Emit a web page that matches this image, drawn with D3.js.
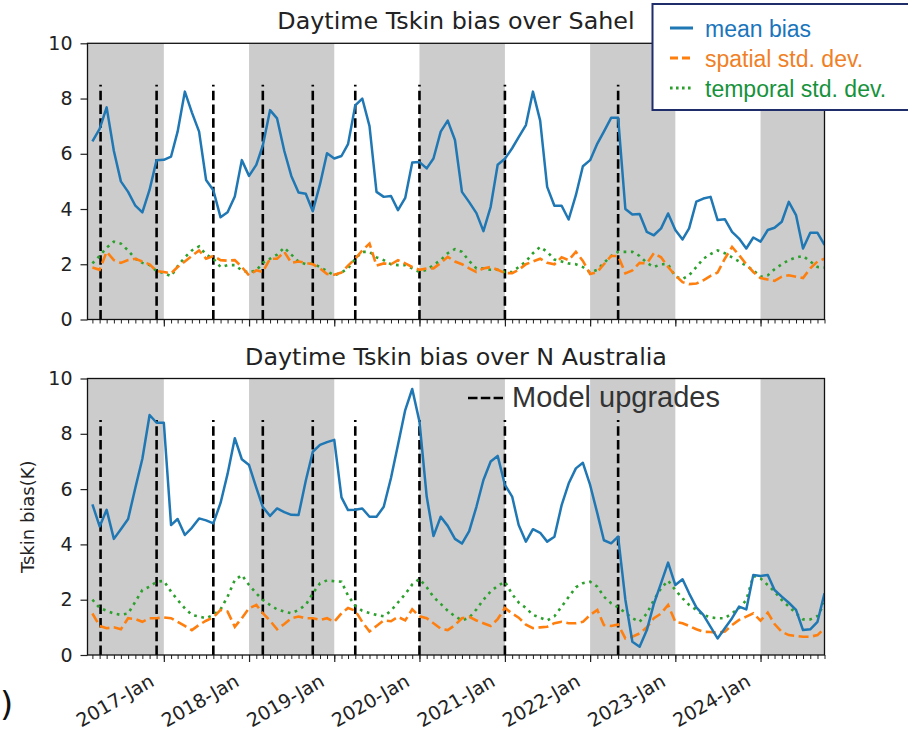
<!DOCTYPE html>
<html>
<head>
<meta charset="utf-8">
<script src="https://cdn.jsdelivr.net/npm/d3@7"></script>
<style>
  body { margin: 0; background: #fff; }
  svg { display: block; }
</style>
</head>
<body>
<svg id="chart" width="908" height="734"></svg>
<script>
// Monthly series, March 2016 .. October 2024 (104 months)
const firstMonth = "2016-03-01";
const lastMonth = "2024-10-01";

// Sahel (top panel), K
const sahelMean = [
  6.45, 6.9, 7.68, 6.1, 5.0, 4.62, 4.12, 3.88, 4.7, 5.77,
  5.78, 5.9, 6.8, 8.25, 7.5, 6.8, 5.05, 4.68, 3.7, 3.88,
  4.45, 5.77, 5.2, 5.6, 6.3, 7.58, 7.28, 6.1, 5.2, 4.6,
  4.55, 3.92, 4.9, 6.02, 5.83, 5.92, 6.35, 7.75, 8.0, 7.0,
  4.62, 4.44, 4.47, 3.96, 4.4, 5.68, 5.7, 5.47, 5.83, 6.8,
  7.2, 6.5, 4.62, 4.25, 3.85, 3.2, 4.08, 5.6, 5.82, 6.2,
  6.6, 7.04, 8.25, 7.2, 4.8, 4.12, 4.12, 3.62, 4.5, 5.55,
  5.77, 6.37, 6.8, 7.3, 7.3, 4.0, 3.8, 3.82, 3.17, 3.05,
  3.3, 3.84, 3.24, 2.9, 3.3, 4.27, 4.38, 4.44, 3.6, 3.63,
  3.17, 2.93, 2.57, 2.97, 2.82, 3.24, 3.32, 3.54, 4.26, 3.78,
  2.57, 3.14, 3.14, 2.7
];
const sahelSpatial = [
  1.88, 1.8, 2.45, 2.15, 2.05, 2.15, 2.2, 2.1, 2.0, 1.75,
  1.72, 1.67, 1.9, 2.1, 2.3, 2.5, 2.2, 2.3, 2.15, 2.13,
  2.15, 1.9, 1.6, 1.78, 1.72, 2.2, 2.2, 2.45, 2.05, 2.1,
  2.05, 2.0, 1.85, 1.65, 1.62, 1.7, 1.95, 2.2, 2.5, 2.75,
  1.95, 2.03, 2.0, 2.15, 2.03, 1.9, 1.8, 1.85, 1.85, 2.05,
  2.27, 2.1, 2.0, 1.85, 1.72, 1.85, 1.9, 1.8, 1.68, 1.68,
  1.8, 2.0, 2.1, 2.2, 2.05, 2.0, 2.25, 2.15, 2.45, 2.12,
  1.65, 1.72, 2.0, 2.3, 2.3, 1.67, 1.78, 2.05, 2.03, 2.4,
  2.25, 1.9, 1.6, 1.35, 1.28, 1.3, 1.42, 1.58, 1.7, 2.2,
  2.63, 2.33, 2.0, 1.72, 1.5, 1.45, 1.4, 1.55, 1.6, 1.55,
  1.5, 1.85, 2.1, 2.2
];
const sahelTemporal = [
  2.03, 2.3, 2.6, 2.82, 2.75, 2.5, 2.2, 2.05, 1.97, 1.75,
  1.68, 1.57, 1.93, 2.25, 2.5, 2.65, 2.35, 2.2, 1.9, 1.97,
  1.97, 1.78, 1.7, 1.78, 2.05, 2.2, 2.35, 2.6, 2.35, 2.1,
  2.0, 2.03, 1.9, 1.75, 1.6, 1.7, 1.85, 2.2, 2.45, 2.45,
  2.25, 2.15, 2.0, 1.97, 1.97, 1.85, 1.72, 1.8, 1.97, 2.15,
  2.4, 2.55, 2.45, 2.12, 1.85, 1.85, 1.8, 1.8, 1.72, 1.72,
  1.9, 2.1, 2.4, 2.63, 2.45, 2.17, 2.1, 2.03, 2.0, 1.9,
  1.7, 1.8, 2.05, 2.3, 2.45, 2.45, 2.45, 2.3, 2.05, 1.9,
  2.0, 2.0, 1.55, 1.47, 1.6, 1.9, 2.2, 2.37, 2.5, 2.4,
  2.25, 2.1, 1.95, 1.78, 1.55, 1.6, 1.82, 2.0, 2.15, 2.25,
  2.3, 2.1, 1.9, 1.88
];

// Northern Australia (bottom panel), K
const nAusMean = [
  5.45, 4.65, 5.25, 4.2, 4.55, 4.92, 6.05, 7.1, 8.68, 8.4,
  8.4, 4.7, 4.92, 4.34, 4.6, 4.94, 4.87, 4.76, 5.5, 6.55,
  7.84, 7.08, 6.87, 6.05, 5.35, 5.03, 5.3, 5.17, 5.07, 5.06,
  6.3, 7.35, 7.6, 7.7, 7.78, 5.7, 5.24, 5.25, 5.3, 5.0,
  5.0, 5.36, 6.4, 7.6, 8.86, 9.62, 8.44, 5.73, 4.3, 5.0,
  4.67, 4.2, 4.03, 4.48, 5.36, 6.33, 7.0, 7.2, 6.15, 5.73,
  4.7, 4.1, 4.55, 4.42, 4.1, 4.28, 5.42, 6.2, 6.75, 6.95,
  6.15, 5.12, 4.15, 4.04, 4.28, 2.0, 0.48, 0.3, 0.9, 1.85,
  2.6, 3.34, 2.53, 2.74, 2.23, 1.72, 1.45, 1.02, 0.6, 0.97,
  1.33, 1.75, 1.65, 2.89, 2.86, 2.89, 2.35, 2.11, 1.89, 1.63,
  0.9, 0.93, 1.2, 2.23
];
const nAusSpatial = [
  1.5, 1.05, 0.97, 1.0, 0.93, 1.33, 1.3, 1.2, 1.33, 1.33,
  1.36, 1.33, 1.2, 1.05, 0.9, 1.09, 1.24, 1.36, 1.63, 1.57,
  1.02, 1.33, 1.69, 1.81, 1.51, 1.24, 0.93, 1.12, 1.33, 1.39,
  1.33, 1.33, 1.27, 1.33, 1.2, 1.51, 1.7, 1.6, 1.2, 0.85,
  1.05, 1.25, 1.22, 1.38, 1.25, 1.65, 1.4, 1.33, 1.15, 0.95,
  0.9, 1.08, 1.33, 1.38, 1.25, 1.15, 1.05, 1.3, 1.7, 1.5,
  1.35, 1.1, 0.97, 1.0, 1.02, 1.15, 1.2, 1.15, 1.15, 1.2,
  1.45, 1.63, 1.08, 1.05, 1.1, 0.6, 0.66, 0.78, 1.0, 1.33,
  1.5, 1.81, 1.2, 1.15, 1.05, 0.93, 0.84, 0.83, 0.8, 0.85,
  1.08, 1.27, 1.39, 1.51, 1.24, 1.53, 1.12, 0.84, 0.72, 0.69,
  0.66, 0.66, 0.72, 0.97
];
const nAusTemporal = [
  2.0, 1.7, 1.6, 1.5, 1.45, 1.5, 1.93, 2.35, 2.47, 2.65,
  2.68, 2.29, 1.99, 1.69, 1.45, 1.39, 1.33, 1.45, 1.65, 2.11,
  2.71, 2.89, 2.53, 2.23, 1.99, 1.81, 1.65, 1.57, 1.51, 1.63,
  1.81, 2.23, 2.59, 2.7, 2.67, 2.65, 2.15, 1.78, 1.6, 1.52,
  1.45, 1.4, 1.6, 1.9, 2.2, 2.55, 2.75, 2.45, 2.1, 1.85,
  1.6, 1.4, 1.25, 1.35, 1.65, 2.0, 2.3, 2.5, 2.65, 2.2,
  1.9, 1.7, 1.45, 1.35, 1.25, 1.4, 1.75, 2.1, 2.45, 2.6,
  2.65, 2.47, 2.11, 1.87, 1.72, 1.53, 1.33, 1.2, 1.5, 1.99,
  2.41, 2.69, 2.35, 2.05, 1.81, 1.63, 1.45, 1.36, 1.33, 1.33,
  1.51, 1.69, 1.99, 2.86, 2.77, 2.53, 2.29, 1.99, 1.75, 1.51,
  1.29, 1.29, 1.41, 1.87
];

// Dates of model upgrades (vertical dashed lines)
const upgradeDates = [
  "2016-04-05", "2016-12-01", "2017-08-01", "2018-03-01", "2018-10-01",
  "2019-04-01", "2020-01-01", "2021-01-01", "2022-05-01"
];
// Shaded calendar years
const shadedYears = [2016, 2018, 2020, 2022, 2024];
const yTicks = [0, 2, 4, 6, 8, 10];
const panelTitles = ["Daytime Tskin bias over Sahel", "Daytime Tskin bias over N Australia"];
const seriesNames = ["mean bias", "spatial std. dev.", "temporal std. dev."];
const yLabel = "Tskin bias(K)";
const upgradeLabel = "Model upgrades";

const colors = { mean: "#1f77b4", spatial: "#ff7f0e", temporal: "#2ca02c" };
const textColors = ["#1b75bc", "#f07f26", "#17923c"];

const parse = d3.utcParse("%Y-%m-%d");
const months = d3.utcMonth.range(parse(firstMonth), d3.utcMonth.offset(parse(lastMonth), 1));

const svg = d3.select("#chart");
const left = 87.5, right = 824.5;
const x = d3.scaleUtc()
  .domain([new Date(Date.UTC(2016, 1, 9)), parse(lastMonth)])
  .range([left, right]);

const panels = [
  { id: "sahel", title: panelTitles[0], top: 43.3, bottom: 319.5,
    mean: sahelMean, spatial: sahelSpatial, temporal: sahelTemporal, labels: false },
  { id: "naus", title: panelTitles[1], top: 378.5, bottom: 655,
    mean: nAusMean, spatial: nAusSpatial, temporal: nAusTemporal, labels: true }
];

const tickFont = "'DejaVu Sans', sans-serif";
const fmt = d3.utcFormat("%Y-%b");

panels.forEach(p => {
  const y = d3.scaleLinear().domain([0, 10]).range([p.bottom, p.top]);
  const g = svg.append("g");

  g.append("clipPath").attr("id", "clip-" + p.id)
    .append("rect").attr("x", left).attr("y", p.top)
    .attr("width", right - left).attr("height", p.bottom - p.top);

  const plot = g.append("g").attr("clip-path", `url(#clip-${p.id})`);

  // shaded years
  plot.selectAll("rect.band").data(shadedYears).join("rect")
    .attr("class", "band")
    .attr("x", d => x(new Date(Date.UTC(d, 0, 1))))
    .attr("width", d => x(new Date(Date.UTC(d + 1, 0, 1))) - x(new Date(Date.UTC(d, 0, 1))))
    .attr("y", p.top).attr("height", p.bottom - p.top)
    .attr("fill", "#cccccc");

  // model upgrade markers
  plot.selectAll("line.upg").data(upgradeDates).join("line")
    .attr("class", "upg")
    .attr("x1", d => x(parse(d))).attr("x2", d => x(parse(d)))
    .attr("y1", y(0)).attr("y2", y(8.5))
    .attr("stroke", "#000").attr("stroke-width", 2.6)
    .attr("stroke-dasharray", "9.5,4.2");

  const line = d3.line().x((d, i) => x(months[i])).y(d => y(d));

  plot.append("path").datum(p.temporal)
    .attr("d", line).attr("fill", "none")
    .attr("stroke", colors.temporal).attr("stroke-width", 2.6)
    .attr("stroke-dasharray", "2.7,4.6");
  plot.append("path").datum(p.spatial)
    .attr("d", line).attr("fill", "none")
    .attr("stroke", colors.spatial).attr("stroke-width", 2.6)
    .attr("stroke-dasharray", "10,4.5");
  plot.append("path").datum(p.mean)
    .attr("d", line).attr("fill", "none")
    .attr("stroke", colors.mean).attr("stroke-width", 2.5)
    .attr("stroke-linejoin", "round");

  // y axis
  const ya = g.append("g").attr("transform", `translate(${left},0)`)
    .call(d3.axisLeft(y).tickValues(yTicks).tickSize(7).tickPadding(8).tickSizeOuter(0));
  ya.select(".domain").remove();
  ya.selectAll("text").attr("font-family", tickFont).attr("font-size", 19).attr("fill", "#222");
  ya.selectAll("line").attr("stroke", "#222").attr("stroke-width", 1.2);

  // x axis: monthly minor ticks, yearly major ticks
  const xMinor = g.append("g").attr("transform", `translate(0,${p.bottom})`)
    .call(d3.axisBottom(x).ticks(d3.utcMonth.every(1)).tickSize(4).tickFormat(""));
  xMinor.select(".domain").remove();
  xMinor.selectAll("line").attr("stroke", "#222").attr("stroke-width", 1);

  const xMajor = g.append("g").attr("transform", `translate(0,${p.bottom})`)
    .call(d3.axisBottom(x).ticks(d3.utcYear.every(1)).tickSize(7)
      .tickFormat(p.labels ? fmt : ""));
  xMajor.select(".domain").remove();
  xMajor.selectAll("line").attr("stroke", "#222").attr("stroke-width", 1.2);
  xMajor.selectAll("text")
    .attr("font-family", tickFont).attr("font-size", 19).attr("fill", "#222")
    .attr("text-anchor", "end")
    .attr("x", 0).attr("y", 0).attr("dy", 0)
    .attr("transform", "translate(-9,30) rotate(-30)");

  // frame
  g.append("rect").attr("x", left).attr("y", p.top)
    .attr("width", right - left).attr("height", p.bottom - p.top)
    .attr("fill", "none").attr("stroke", "#111").attr("stroke-width", 1.3);

  // title
  g.append("text").attr("x", (left + right) / 2).attr("y", p.top - 14)
    .attr("text-anchor", "middle")
    .attr("font-family", tickFont).attr("font-size", 23.8).attr("fill", "#222")
    .text(p.title);

  if (p.labels) {
    g.append("text")
      .attr("transform", `translate(34,${(p.top + p.bottom) / 2}) rotate(-90)`)
      .attr("text-anchor", "middle")
      .attr("font-family", tickFont).attr("font-size", 18).attr("fill", "#222")
      .text(yLabel);

    // upgrade legend entry
    const lg = g.append("g");
    lg.append("line").attr("x1", 468).attr("x2", 503).attr("y1", 398).attr("y2", 398)
      .attr("stroke", "#000").attr("stroke-width", 2.6).attr("stroke-dasharray", "9.5,3.3");
    lg.append("text").attr("x", 512).attr("y", 407)
      .attr("font-family", "'Liberation Sans', Arial, sans-serif")
      .attr("font-size", 29).attr("fill", "#333")
      .text(upgradeLabel);
  }
});

// series legend box
const leg = svg.append("g");
leg.append("rect").attr("x", 652.5).attr("y", 4).attr("width", 270).attr("height", 106)
  .attr("fill", "#fff").attr("stroke", "#1f2d6b").attr("stroke-width", 2);
const legRows = [
  { key: "mean", dash: null, y: 28 },
  { key: "spatial", dash: "8,4", y: 58 },
  { key: "temporal", dash: "2.6,3.4", y: 88 }
];
legRows.forEach((r, i) => {
  leg.append("line").attr("x1", 670).attr("x2", 693).attr("y1", r.y).attr("y2", r.y)
    .attr("stroke", colors[r.key]).attr("stroke-width", 3)
    .attr("stroke-dasharray", r.dash);
  leg.append("text").attr("x", 705).attr("y", r.y + 8.5)
    .attr("font-family", "'Liberation Sans', Arial, sans-serif")
    .attr("font-size", 23).attr("fill", textColors[i])
    .text(seriesNames[i]);
});

// panel tag at the lower-left corner
svg.append("text").attr("x", 0).attr("y", 716)
  .attr("font-family", tickFont).attr("font-size", 34).attr("fill", "#111")
  .text(")");
</script>
</body>
</html>
